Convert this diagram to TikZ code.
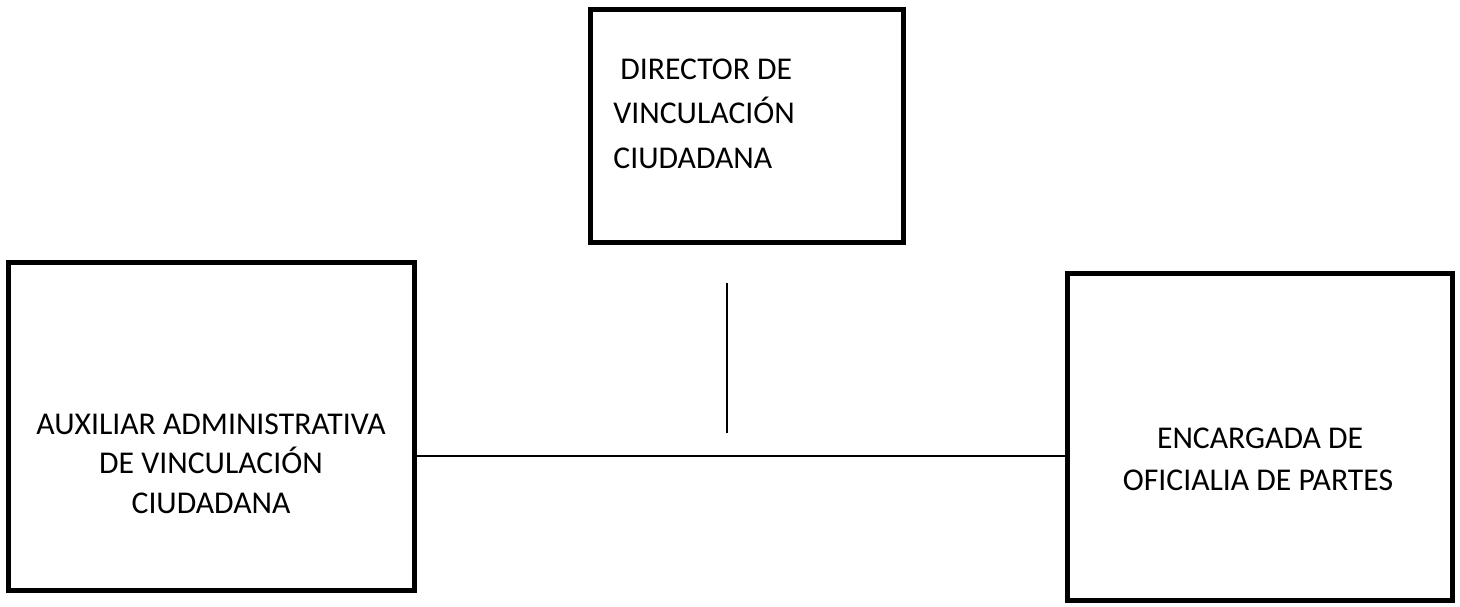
\documentclass[tikz,border=0pt]{standalone}
\usepackage{fontspec}
\setmainfont{Carlito}
\begin{document}
\begin{tikzpicture}[x=0.5pt,y=-0.5pt,
  orgbox/.style={draw=black,line width=2.5pt,rectangle,inner sep=0pt,fill=none},
  lbl/.style={inner sep=0pt,font=\fontsize{15.85}{19}\selectfont},
  conn/.style={draw=black,line width=0.75pt}]
\useasboundingbox (0,0) rectangle (1460,606);
% boxes
\node[orgbox,minimum width=312.5*0.5pt,minimum height=232.5*0.5pt] (dir) at (746.75,125.75) {};
\node[orgbox,minimum width=406*0.5pt,minimum height=328*0.5pt] (aux) at (211,426) {};
\node[orgbox,minimum width=385*0.5pt,minimum height=326.5*0.5pt] (enc) at (1260,436.75) {};
% texts
\node[lbl,anchor=base west] (dir1) at (620,79) {DIRECTOR DE};
\node[lbl,anchor=base west] (dir2) at (613,123.5) {VINCULACIÓN};
\node[lbl,anchor=base west] (dir3) at (613,168) {CIUDADANA};
\node[lbl,anchor=base] (aux1) at (211,434) {AUXILIAR ADMINISTRATIVA};
\node[lbl,anchor=base] (aux2) at (211,473) {DE VINCULACIÓN};
\node[lbl,anchor=base] (aux3) at (211,513) {CIUDADANA};
\node[lbl,anchor=base] (enc1) at (1260,448) {ENCARGADA DE};
\node[lbl,anchor=base] (enc2) at (1258,490) {OFICIALIA DE PARTES};
% connectors
\coordinate (h) at (0,456);
\coordinate (v1) at (727,283);
\coordinate (v2) at (727,433);
\draw[conn] (aux.east |- h) -- (enc.west |- h);
\draw[conn] (v1) -- (v2);
\end{tikzpicture}
\end{document}
